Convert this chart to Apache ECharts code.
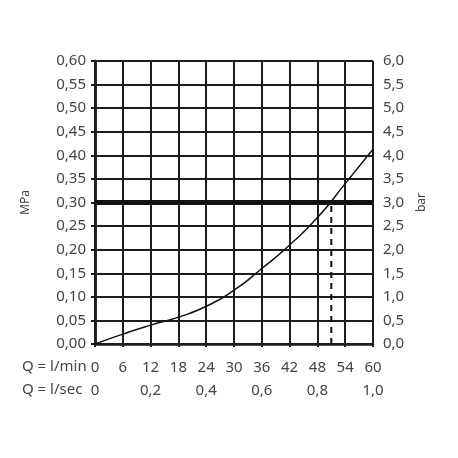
<!DOCTYPE html>
<html>
<head>
<meta charset="utf-8">
<script src="https://cdn.jsdelivr.net/npm/echarts@6/dist/echarts.min.js"></script>
<style>
html,body{margin:0;padding:0;background:#fff;}
#c{width:458px;height:458px;}
</style>
</head>
<body>
<div id="c"></div>
<script>
// Flow in l/min and pressure in MPa
var flowLmin = [0, 6, 12, 18, 24, 30, 36, 42, 48, 54, 60];
var pressureMPa = [0, 0.021, 0.040, 0.057, 0.080, 0.114, 0.160, 0.210, 0.268, 0.340, 0.413];
// Reference lines
var limitPressure = [0.30];
var operatingFlow = [51];
// Tick labels
var secTicks = [0, 12, 24, 36, 48, 60];
var secLabels = ['0', '0,2', '0,4', '0,6', '0,8', '1,0'];

var FONT = 'Noto Sans';
var TXT = '#444';
var LINE = '#1e1e1e';

var curve = flowLmin.map(function (q, i) { return [q, pressureMPa[i]]; });
var limitLine = [[0, limitPressure[0]], [60, limitPressure[0]]];
var dashLine = [[operatingFlow[0], 0], [operatingFlow[0], limitPressure[0]]];

var chart = echarts.init(document.getElementById('c'));
chart.setOption({
  animation: false,
  backgroundColor: '#fff',
  grid: { left: 95, right: 85, top: 61, bottom: 114 },
  graphic: [
    { type: 'text', left: 22, top: 359, style: { text: 'Q = l/min', font: '15px "Noto Sans"', fill: TXT } },
    { type: 'text', left: 22, top: 382, style: { text: 'Q = l/sec', font: '15px "Noto Sans"', fill: TXT } }
  ],
  xAxis: [{
    type: 'value', min: 0, max: 60, interval: 6, position: 'bottom',
    axisLine: { show: true, lineStyle: { color: LINE, width: 2.5 } },
    axisTick: { show: true, length: 3, lineStyle: { color: LINE, width: 2 } },
    splitLine: { show: true, lineStyle: { color: LINE, width: 2 } },
    axisLabel: { margin: 16, fontFamily: FONT, fontSize: 15, color: TXT }
  }, {
    type: 'value', min: 0, max: 60, interval: 12, position: 'bottom', offset: 23,
    axisLine: { show: false }, axisTick: { show: false }, splitLine: { show: false },
    axisLabel: {
      margin: 16, fontFamily: FONT, fontSize: 15, color: TXT,
      formatter: function (v) { var i = secTicks.indexOf(v); return i >= 0 ? secLabels[i] : ''; }
    }
  }],
  yAxis: [{
    type: 'value', min: 0, max: 0.6, interval: 0.05, position: 'left',
    name: 'MPa', nameLocation: 'middle', nameGap: 55,
    nameTextStyle: { fontFamily: FONT, fontSize: 12, color: TXT, padding: [0, 0, 8, 0] },
    axisLine: { show: true, lineStyle: { color: LINE, width: 2.5 } },
    axisTick: { show: true, length: 4, lineStyle: { color: LINE, width: 2 } },
    splitLine: { show: true, lineStyle: { color: LINE, width: 2 } },
    axisLabel: { margin: 9, fontFamily: FONT, fontSize: 15, color: TXT,
      formatter: function (v) { return v.toFixed(2).replace('.', ','); } }
  }, {
    type: 'value', min: 0, max: 6, interval: 0.5, position: 'right',
    name: 'bar', nameLocation: 'middle', nameGap: 42, nameRotate: 90,
    nameTextStyle: { fontFamily: FONT, fontSize: 12, color: TXT, padding: [0, 0, 8, 0] },
    axisLine: { show: true, lineStyle: { color: LINE, width: 2.5 } },
    axisTick: { show: true, length: 4, lineStyle: { color: LINE, width: 2 } },
    splitLine: { show: false },
    axisLabel: { margin: 10, fontFamily: FONT, fontSize: 15, color: TXT,
      formatter: function (v) { return v.toFixed(1).replace('.', ','); } }
  }],
  series: [{
    type: 'line', data: curve, smooth: 0.6, showSymbol: false,
    lineStyle: { color: '#111', width: 1.5 }, z: 4
  }, {
    type: 'line', data: limitLine, showSymbol: false,
    lineStyle: { color: '#111', width: 5 }, z: 5
  }, {
    type: 'line', data: dashLine, showSymbol: false,
    lineStyle: { color: '#111', width: 2, type: [6, 5] }, z: 5
  }]
});
</script>
</body>
</html>
